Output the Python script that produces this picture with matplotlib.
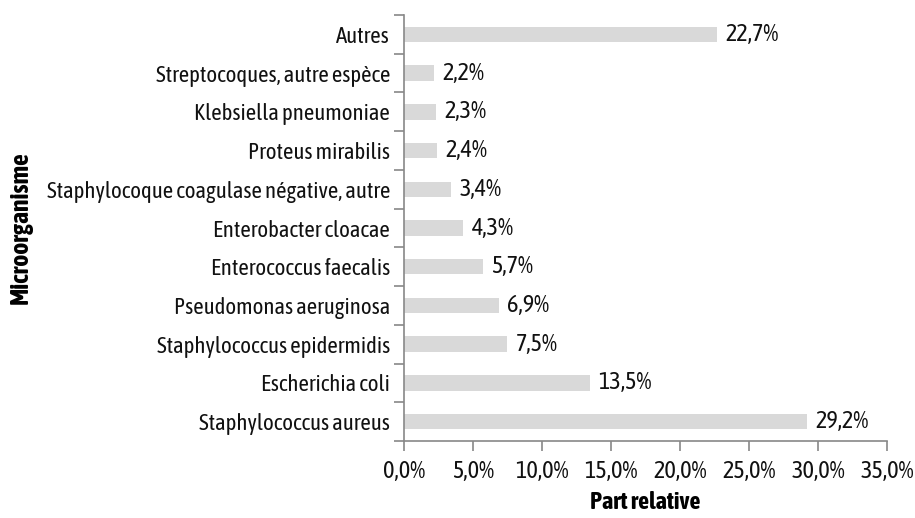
import matplotlib
matplotlib.use("Agg")
import matplotlib.pyplot as plt
import numpy as np

# données (ordre du bas vers le haut)
organismes = [
    "Staphylococcus aureus",
    "Escherichia coli",
    "Staphylococcus epidermidis",
    "Pseudomonas aeruginosa",
    "Enterococcus faecalis",
    "Enterobacter cloacae",
    "Staphylocoque coagulase négative, autre",
    "Proteus mirabilis",
    "Klebsiella pneumoniae",
    "Streptocoques, autre espèce",
    "Autres",
]
parts = [29.2, 13.5, 7.5, 6.9, 5.7, 4.3, 3.4, 2.4, 2.3, 2.2, 22.7]
xticks = [0, 5, 10, 15, 20, 25, 30, 35]

# police condensée si présente, sinon repli
plt.rcParams['font.family'] = ['Asap Condensed', 'Liberation Sans', 'DejaVu Sans']


def fr(v):
    return "{:.1f}%".format(v).replace(".", ",")


fig = plt.figure(figsize=(9.15, 5.18), dpi=100)
ax = fig.add_axes([0.4415, 0.1486, 0.5279, 0.8224])

y = np.arange(len(organismes))
ax.barh(y, parts, height=0.4, color="#d9d9d9")

for yi, v in zip(y, parts):
    ax.text(v + 0.6, yi, fr(v), va="center", ha="left", fontsize=17.5, color="#111111")

ax.set_xlim(0, 35)
ax.set_ylim(-0.5, len(organismes) - 0.5)
ax.set_xticks(xticks)
ax.set_xticklabels([fr(t) for t in xticks], fontsize=17.5)
ax.set_yticks(y)
ax.set_yticklabels(organismes, fontsize=16.4)
ax.set_yticks(np.arange(-0.5, len(organismes)), minor=True)
ax.tick_params(axis="y", which="major", length=0, pad=10)
ax.tick_params(axis="y", which="minor", length=7, width=1.2, color="#888888", direction="out")
ax.tick_params(axis="x", length=7, width=1.2, color="#888888", direction="out", pad=7,
               labelcolor="#111111")
ax.tick_params(axis="y", labelcolor="#111111")

for s in ["top", "right"]:
    ax.spines[s].set_visible(False)
for s in ["left", "bottom"]:
    ax.spines[s].set_color("#888888")
    ax.spines[s].set_linewidth(1.2)

# titres des axes
fig.text(0.7054, 0.008, "Part relative", fontsize=17.5, fontweight="bold",
         ha="center", va="bottom")
fig.text(0.022, 0.56, "Microorganisme", rotation=90, fontsize=18.5, fontweight="bold",
         va="center", ha="center")

fig.savefig("out.png", dpi=100)
